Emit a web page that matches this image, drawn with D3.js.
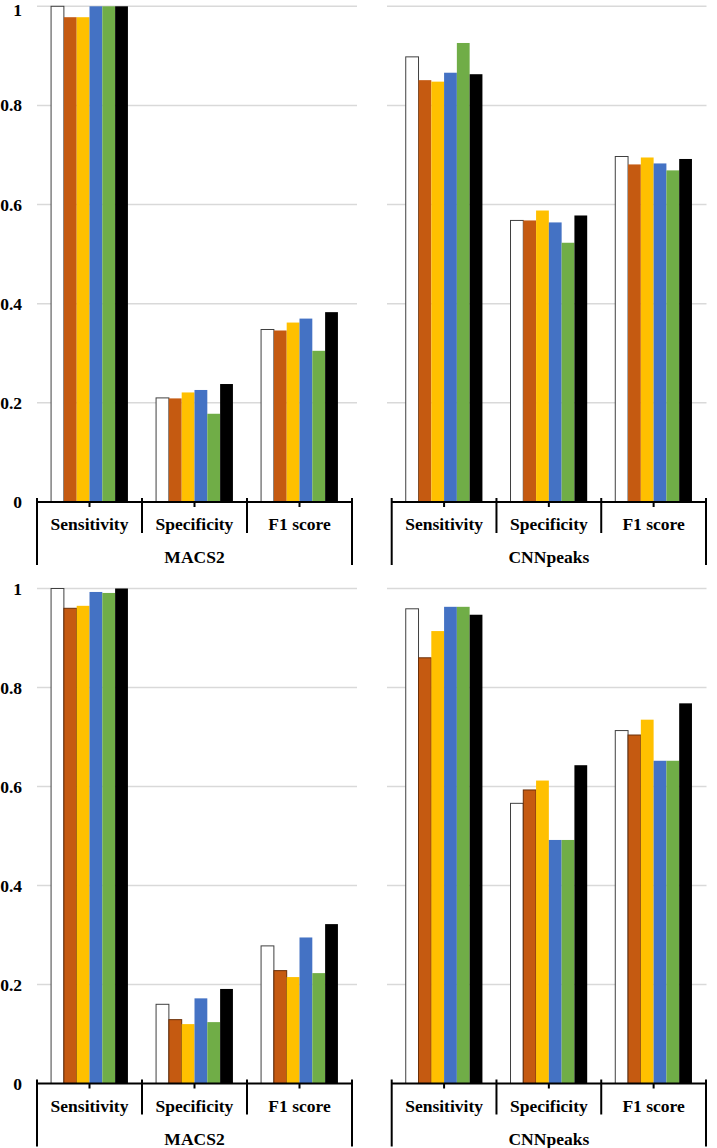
<!DOCTYPE html>
<html>
<head>
<meta charset="utf-8">
<script src="https://d3js.org/d3.v7.min.js"></script>
<style>
  body { margin: 0; background: #fff; }
  svg { display: block; }
</style>
<title>MACS2 vs CNNpeaks</title>
</head>
<body>
<svg id="chart" width="717" height="1148"></svg>
<script>
// data
var categories = ["Sensitivity", "Specificity", "F1 score"];
var groups = ["MACS2", "CNNpeaks"];
var seriesNames = ["s1", "s2", "s3", "s4", "s5", "s6"];
var seriesColors = ["#ffffff", "#c55a11", "#ffc000", "#4472c4", "#70ad47", "#000000"];
var yTicks = [0, 0.2, 0.4, 0.6, 0.8, 1];
var yTickLabels = ["0", "0.2", "0.4", "0.6", "0.8", "1"];

// rows: one value per series, per category
var topMacs2 = [
  [1.000, 0.978, 0.978, 1.000, 1.000, 1.000],
  [0.210, 0.209, 0.221, 0.226, 0.178, 0.238],
  [0.348, 0.346, 0.362, 0.370, 0.305, 0.383]
];
var topCnnpeaks = [
  [0.898, 0.851, 0.848, 0.866, 0.926, 0.863],
  [0.568, 0.568, 0.588, 0.564, 0.523, 0.578],
  [0.697, 0.681, 0.695, 0.683, 0.669, 0.692]
];
var bottomMacs2 = [
  [1.000, 0.960, 0.965, 0.993, 0.991, 1.000],
  [0.160, 0.129, 0.120, 0.172, 0.124, 0.191],
  [0.278, 0.228, 0.215, 0.295, 0.223, 0.322]
];
var bottomCnnpeaks = [
  [0.959, 0.860, 0.914, 0.963, 0.963, 0.947],
  [0.566, 0.593, 0.612, 0.492, 0.492, 0.643],
  [0.713, 0.704, 0.735, 0.652, 0.652, 0.768]
];

var FONT = "'Liberation Serif', 'Times New Roman', Times, 'DejaVu Serif', serif";

var svg = d3.select("#chart");

var rows = [
  { y0: 502, y1: 6.3, orangeEdge: false },
  { y0: 1083.5, y1: 588.5, orangeEdge: true }
];
var cols = [
  { x0: 37, x1: 352, gx0: 37, gx1: 357, labels: true },
  { x0: 391.7, x1: 706, gx0: 387, gx1: 706.5, labels: false }
];

var panels = [
  { row: 0, col: 0, group: groups[0], values: topMacs2 },
  { row: 0, col: 1, group: groups[1], values: topCnnpeaks },
  { row: 1, col: 0, group: groups[0], values: bottomMacs2 },
  { row: 1, col: 1, group: groups[1], values: bottomCnnpeaks }
];

function label(sel) {
  sel.attr("font-family", FONT)
    .attr("font-weight", "bold")
    .attr("font-size", "17.5px")
    .attr("fill", "#000")
    .attr("dominant-baseline", "central");
}

panels.forEach(function(p) {
  var r = rows[p.row], c = cols[p.col];
  var g = svg.append("g");

  var y = d3.scaleLinear().domain([0, 1]).range([r.y0, r.y1]);
  var x0 = d3.scaleBand().domain(categories).range([c.x0, c.x1]);
  var catW = x0.bandwidth();
  var inset = catW * 0.134;
  var x1 = d3.scaleBand().domain(seriesNames).range([inset, catW - inset]);
  var color = d3.scaleOrdinal().domain(seriesNames).range(seriesColors);

  // gridlines
  g.selectAll("line.grid").data(yTicks.filter(function(t) { return t > 0; }))
    .enter().append("line")
    .attr("x1", c.gx0).attr("x2", c.gx1)
    .attr("y1", function(d) { return y(d); }).attr("y2", function(d) { return y(d); })
    .attr("stroke", "#d9d9d9").attr("stroke-width", 1.5);

  // y tick labels (left column only)
  if (c.labels) {
    g.selectAll("text.ytick").data(yTicks)
      .enter().append("text")
      .call(label)
      .attr("x", 22).attr("y", function(d) { return Math.max(y(d), 9.5); })
      .attr("text-anchor", "end")
      .text(function(d, i) { return yTickLabels[i]; });
  }

  // bars
  var cat = g.selectAll("g.cat").data(p.values).enter().append("g")
    .attr("transform", function(d, i) { return "translate(" + x0(categories[i]) + ",0)"; });

  cat.selectAll("rect").data(function(d) {
      return d.map(function(v, j) { return { key: seriesNames[j], value: v }; });
    })
    .enter().append("rect")
    .attr("x", function(d) { return x1(d.key); })
    .attr("width", x1.bandwidth())
    .attr("y", function(d) { return y(d.value); })
    .attr("height", function(d) { return y(0) - y(d.value); })
    .attr("fill", function(d) { return color(d.key); })
    .attr("stroke", function(d) {
      if (d.key === "s1") return "#404040";
      if (d.key === "s2" && r.orangeEdge) return "#6b2f08";
      return "none";
    })
    .attr("stroke-width", 1);

  // axis line
  g.append("line")
    .attr("x1", c.x0).attr("x2", c.x1)
    .attr("y1", y(0)).attr("y2", y(0))
    .attr("stroke", "#000").attr("stroke-width", 2);

  // small ticks at category centres
  g.selectAll("line.ctick").data(categories).enter().append("line")
    .attr("x1", function(d) { return x0(d) + catW / 2; })
    .attr("x2", function(d) { return x0(d) + catW / 2; })
    .attr("y1", y(0)).attr("y2", y(0) + 5)
    .attr("stroke", "#000").attr("stroke-width", 2);

  // separators between categories
  g.selectAll("line.sep").data(categories.slice(1)).enter().append("line")
    .attr("x1", function(d) { return x0(d); }).attr("x2", function(d) { return x0(d); })
    .attr("y1", y(0) - 4).attr("y2", y(0) + 31)
    .attr("stroke", "#000").attr("stroke-width", 2);

  // outer group lines
  g.selectAll("line.outer").data([c.x0, c.x1]).enter().append("line")
    .attr("x1", function(d) { return d; }).attr("x2", function(d) { return d; })
    .attr("y1", y(0) - 4).attr("y2", y(0) + 63)
    .attr("stroke", "#000").attr("stroke-width", 2);

  // category labels
  g.selectAll("text.cat").data(categories).enter().append("text")
    .call(label)
    .attr("x", function(d) { return x0(d) + catW / 2; })
    .attr("y", y(0) + 22)
    .attr("text-anchor", "middle")
    .text(function(d) { return d; });

  // group label
  g.append("text")
    .call(label)
    .attr("x", (c.x0 + c.x1) / 2)
    .attr("y", y(0) + 55)
    .attr("text-anchor", "middle")
    .text(p.group);
});
</script>
</body>
</html>
